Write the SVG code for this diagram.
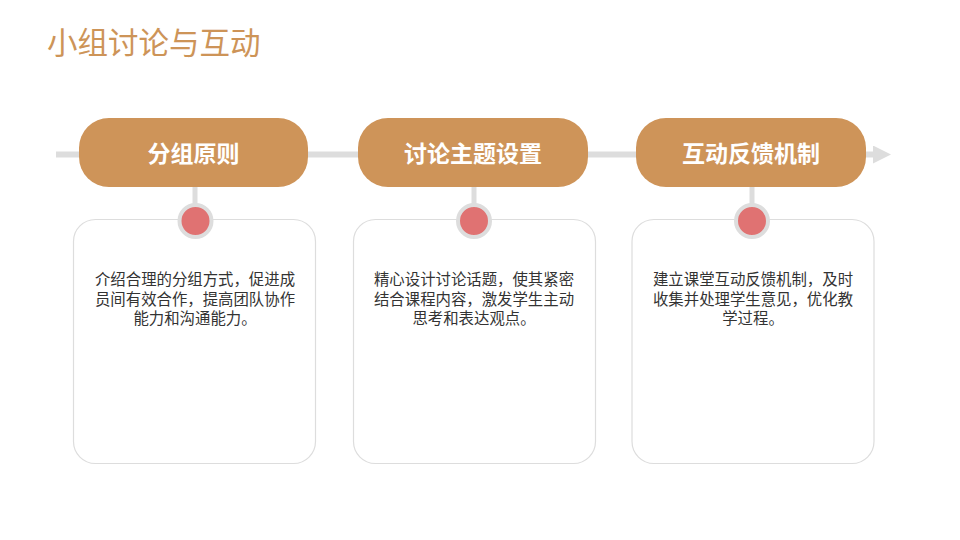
<svg xmlns="http://www.w3.org/2000/svg" width="960" height="540" viewBox="0 0 960 540">
<style>
.title{font-family:"Noto Sans CJK SC","Noto Sans",sans-serif;font-size:30.5px;fill:#CD9458}
.pill{fill:#CE9459}
.pillt{font-family:"Noto Sans CJK SC","Noto Sans",sans-serif;font-size:23px;font-weight:bold;fill:#FFFFFF;text-anchor:middle}
.card{fill:#FFFFFF;stroke:#DDDDDD;stroke-width:1.2}
.dot{fill:#E07272;stroke:#DDDDDD;stroke-width:4}
.stem{stroke:#DDDDDD;stroke-width:5}
.body{font-family:"Liberation Sans","Noto Sans CJK SC",sans-serif;font-size:15.4px;fill:#333333;text-anchor:middle}
</style>
<defs>
<marker id="arr" markerWidth="18" markerHeight="18" refX="0" refY="9" orient="auto" markerUnits="userSpaceOnUse">
<path d="M0,0 L18,9 L0,18 Z" fill="#DDDDDD"/>
</marker>
</defs>
<rect width="960" height="540" fill="#FFFFFF"/>
<text class="title" x="47" y="54">小组讨论与互动</text>
<g id="connectors">
<line x1="56" y1="154.5" x2="873" y2="154.5" stroke="#DDDDDD" stroke-width="6" marker-end="url(#arr)"/>
<line class="stem" x1="195" y1="185" x2="195" y2="205"/>
<line class="stem" x1="474" y1="185" x2="474" y2="205"/>
<line class="stem" x1="752" y1="185" x2="752" y2="205"/>
</g>
<g id="card1">
<rect class="card" x="73.5" y="219.5" width="242" height="244" rx="22"/>
<text class="body"><tspan x="195" y="285">介绍合理的分组方式，促进成</tspan><tspan x="195" y="304.5">员间有效合作，提高团队协作</tspan><tspan x="195" y="324">能力和沟通能力。</tspan></text>
</g>
<g id="card2">
<rect class="card" x="353.5" y="219.5" width="242" height="244" rx="22"/>
<text class="body"><tspan x="474" y="285">精心设计讨论话题，使其紧密</tspan><tspan x="474" y="304.5">结合课程内容，激发学生主动</tspan><tspan x="474" y="324">思考和表达观点。</tspan></text>
</g>
<g id="card3">
<rect class="card" x="632" y="219.5" width="242" height="244" rx="22"/>
<text class="body"><tspan x="753" y="285">建立课堂互动反馈机制，及时</tspan><tspan x="753" y="304.5">收集并处理学生意见，优化教</tspan><tspan x="753" y="324">学过程。</tspan></text>
</g>
<g id="node1">
<rect class="pill" x="79" y="118" width="229" height="69" rx="30"/>
<text class="pillt" x="193.5" y="162">分组原则</text>
<circle class="dot" cx="195.5" cy="221" r="16"/>
</g>
<g id="node2">
<rect class="pill" x="358" y="118" width="230" height="69" rx="30"/>
<text class="pillt" x="473" y="162">讨论主题设置</text>
<circle class="dot" cx="474" cy="221" r="16"/>
</g>
<g id="node3">
<rect class="pill" x="636" y="118" width="230" height="69" rx="30"/>
<text class="pillt" x="751" y="162">互动反馈机制</text>
<circle class="dot" cx="752" cy="221" r="16"/>
</g>
</svg>
